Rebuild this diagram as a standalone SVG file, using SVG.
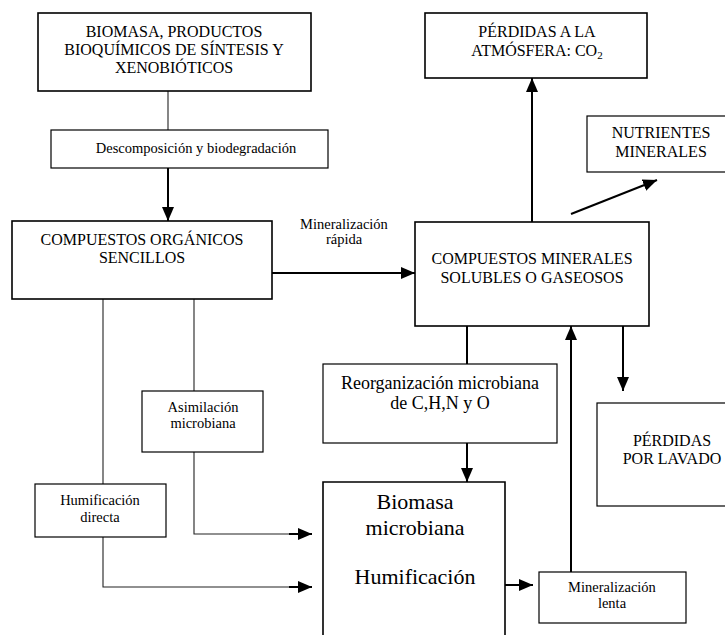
<svg xmlns="http://www.w3.org/2000/svg" width="725" height="635" viewBox="0 0 725 635">
<defs>
<style>
.box{fill:#fff;stroke:#000;stroke-width:1.6}
.sbox{fill:#fff;stroke:#000;stroke-width:1.2}
text{font-family:'Liberation Serif','Times New Roman','DejaVu Serif',serif;fill:#000;text-anchor:middle}
.big{font-size:16px}
.med{font-size:18px}
.sm{font-size:14.5px}
.xl{font-size:22px}
.thin{fill:none;stroke:#222;stroke-width:1.1}
.thick{fill:none;stroke:#000;stroke-width:2}
</style>
<marker id="ah" markerUnits="userSpaceOnUse" markerWidth="14" markerHeight="12" viewBox="0 0 14 12" refX="14" refY="6" orient="auto">
<path d="M0,0 L14,6 L0,12 Z" fill="#000"/>
</marker>
</defs>
<g id="connectors">
<line class="thin" x1="168" y1="91" x2="168" y2="130"/>
<line class="thick" x1="168" y1="168" x2="168" y2="221" marker-end="url(#ah)"/>
<line class="thick" x1="272" y1="273" x2="415" y2="273" marker-end="url(#ah)"/>
<line class="thick" x1="532" y1="222" x2="532" y2="78" marker-end="url(#ah)"/>
<line class="thick" x1="571" y1="214" x2="657" y2="180" marker-end="url(#ah)"/>
<line class="thick" x1="623" y1="326" x2="623" y2="391" marker-end="url(#ah)"/>
<line class="thick" x1="467" y1="326" x2="467" y2="364"/>
<line class="thick" x1="467" y1="443" x2="467" y2="482" marker-end="url(#ah)"/>
<line class="thick" x1="571" y1="572" x2="571" y2="326" marker-end="url(#ah)"/>
<line class="thick" x1="505" y1="585" x2="533" y2="585" marker-end="url(#ah)"/>
<line class="thin" x1="103" y1="299" x2="103" y2="484"/>
<polyline class="thin" points="103,537 103,587 290,587"/>
<line class="thick" x1="289" y1="587" x2="312" y2="587" marker-end="url(#ah)"/>
<line class="thin" x1="194" y1="299" x2="194" y2="391"/>
<polyline class="thin" points="194,452 194,534 290,534"/>
<line class="thick" x1="289" y1="534" x2="312" y2="534" marker-end="url(#ah)"/>
</g>
<g id="biomasa">
<rect class="box" x="38" y="13" width="273" height="78"/>
<text class="big" x="174" y="37">BIOMASA, PRODUCTOS</text>
<text class="big" x="174" y="55">BIOQUÍMICOS DE SÍNTESIS Y</text>
<text class="big" x="174" y="73">XENOBIÓTICOS</text>
</g>
<g id="descomposicion">
<rect class="sbox" x="51" y="130" width="277" height="38"/>
<text class="sm" x="196" y="153">Descomposición y biodegradación</text>
</g>
<g id="organicos">
<rect class="box" x="12" y="221" width="260" height="78"/>
<text class="big" x="142" y="245">COMPUESTOS ORGÁNICOS</text>
<text class="big" x="142" y="263">SENCILLOS</text>
</g>
<g id="min-rapida">
<text class="sm" x="344" y="229">Mineralización</text>
<text class="sm" x="344" y="244">rápida</text>
</g>
<g id="atmosfera">
<rect class="box" x="425" y="13" width="222" height="65"/>
<text class="big" x="537" y="37">PÉRDIDAS A LA</text>
<text class="big" x="537" y="56">ATMÓSFERA: CO<tspan font-size="11" dy="3">2</tspan></text>
</g>
<g id="nutrientes">
<rect class="sbox" x="587" y="116" width="145" height="56"/>
<text class="big" x="661" y="138">NUTRIENTES</text>
<text class="big" x="661" y="157">MINERALES</text>
</g>
<g id="minerales">
<rect class="box" x="415" y="222" width="234" height="104"/>
<text class="big" x="532" y="264">COMPUESTOS MINERALES</text>
<text class="big" x="532" y="283">SOLUBLES O GASEOSOS</text>
</g>
<g id="reorganizacion">
<rect class="sbox" x="323" y="364" width="234" height="79"/>
<text class="med" x="440" y="389">Reorganización microbiana</text>
<text class="med" x="440" y="409">de C,H,N y O</text>
</g>
<g id="lavado">
<rect class="sbox" x="597" y="403" width="135" height="103"/>
<text class="big" x="672" y="446">PÉRDIDAS</text>
<text class="big" x="672" y="464">POR LAVADO</text>
</g>
<g id="asimilacion">
<rect class="sbox" x="142" y="391" width="121" height="61"/>
<text class="sm" x="203" y="412">Asimilación</text>
<text class="sm" x="203" y="428">microbiana</text>
</g>
<g id="humificacion-directa">
<rect class="sbox" x="35" y="484" width="131" height="53"/>
<text class="sm" x="100" y="505">Humificación</text>
<text class="sm" x="100" y="522">directa</text>
</g>
<g id="biomasa-microbiana">
<path class="box" d="M323,640 L323,482 L505,482 L505,640"/>
<text class="xl" x="415" y="509">Biomasa</text>
<text class="xl" x="415" y="535">microbiana</text>
<text class="xl" x="415" y="584">Humificación</text>
</g>
<g id="min-lenta">
<rect class="sbox" x="539" y="572" width="147" height="51"/>
<text class="sm" x="612" y="592">Mineralización</text>
<text class="sm" x="612" y="608">lenta</text>
</g>
</svg>
